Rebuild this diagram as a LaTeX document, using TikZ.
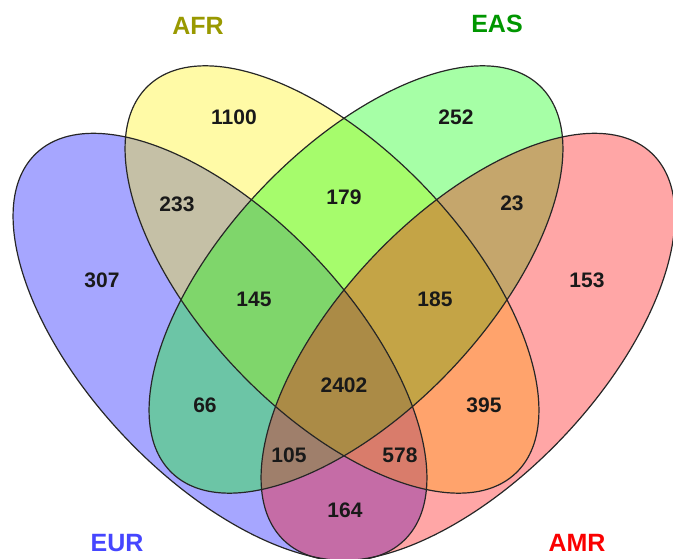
\documentclass[tikz,border=0pt]{standalone}
\usepackage{fontspec}
\setmainfont{Liberation Sans}
\definecolor{afrcol}{RGB}{153,153,0}
\definecolor{eascol}{RGB}{0,150,0}
\definecolor{eurcol}{RGB}{70,70,255}
\definecolor{amrcol}{RGB}{250,0,0}
\definecolor{numcol}{RGB}{25,25,25}
\begin{document}
\begin{tikzpicture}[x=1pt,y=1pt,
  setfill/.style={fill opacity=0.35},
  outline/.style={draw=black!85, line width=1.2pt},
  num/.style={font=\fontsize{21}{21}\selectfont\bfseries, text=numcol, inner sep=0pt},
  cat/.style={font=\fontsize{25}{25}\selectfont\bfseries, inner sep=0pt}]
\useasboundingbox (0,0) rectangle (673,559);
\clip (0,0) rectangle (673,559);
\coordinate (cEUR) at (220,212);
\coordinate (cAFR) at (332,279.5);
\coordinate (cEAS) at (356,279.5);
\coordinate (cAMR) at (468,212);
% fills
\fill[blue, setfill, rotate around={-46.5:(cEUR)}] (cEUR) ellipse [x radius=267, y radius=131];
\fill[yellow, setfill, rotate around={-46.5:(cAFR)}] (cAFR) ellipse [x radius=267, y radius=131];
\fill[green, setfill, rotate around={46.5:(cEAS)}] (cEAS) ellipse [x radius=267, y radius=131];
\fill[red, setfill, rotate around={46.5:(cAMR)}] (cAMR) ellipse [x radius=267, y radius=131];
% outlines
\draw[outline, rotate around={-46.5:(cEUR)}] (cEUR) ellipse [x radius=267, y radius=131];
\draw[outline, rotate around={-46.5:(cAFR)}] (cAFR) ellipse [x radius=267, y radius=131];
\draw[outline, rotate around={46.5:(cEAS)}] (cEAS) ellipse [x radius=267, y radius=131];
\draw[outline, rotate around={46.5:(cAMR)}] (cAMR) ellipse [x radius=267, y radius=131];
% category labels
\node[cat, text=afrcol] (lAFR) at (198,533) {AFR};
\node[cat, text=eascol] (lEAS) at (497,535) {EAS};
\node[cat, text=eurcol] (lEUR) at (117,16) {EUR};
\node[cat, text=amrcol] (lAMR) at (577,16) {AMR};
% counts
\node[num] (n1100) at (234,442) {1100};
\node[num] (n252) at (456,442) {252};
\node[num] (n233) at (177,355) {233};
\node[num] (n179) at (344,362) {179};
\node[num] (n23) at (512,356) {23};
\node[num] (n307) at (102,279) {307};
\node[num] (n153) at (587,279) {153};
\node[num] (n145) at (254,260) {145};
\node[num] (n185) at (435,260) {185};
\node[num] (n2402) at (344,174) {2402};
\node[num] (n66) at (205,154) {66};
\node[num] (n395) at (484,154) {395};
\node[num] (n105) at (289,104) {105};
\node[num] (n578) at (400,104) {578};
\node[num] (n164) at (345,49) {164};
\end{tikzpicture}
\end{document}
